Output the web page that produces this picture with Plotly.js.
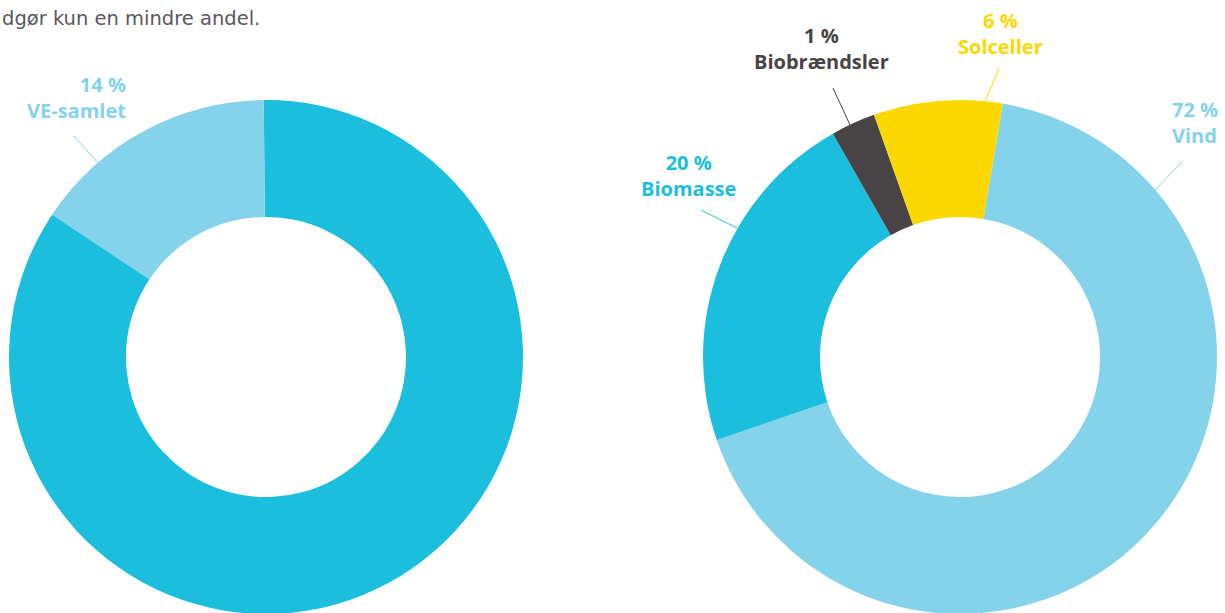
<!DOCTYPE html>
<html>
<head>
<meta charset="utf-8">
<script src="https://cdn.plot.ly/plotly-3.0.1.min.js"></script>
<style>
html,body{margin:0;padding:0;background:#fff;overflow:hidden;}
#chart{width:1225px;height:680px;}
</style>
</head>
<body>
<div id="chart"></div>
<script>
// ---- data ----
var leftLabels = ["Øvrige", "VE-samlet"];
var leftValues = [84.5, 15.5];
var leftPctText = ["", "14 %"];

var rightLabels = ["Vind", "Biomasse", "Biobrændsler", "Solceller"];
var rightValues = [67.1, 22.0, 2.8, 8.1];
var rightPctText = ["72 %", "20 %", "1 %", "6 %"];

var introText = "dgør kun en mindre andel.";

// ---- styling ----
var W = 1225, H = 680;
function px(x){ return x / W; }
function py(y){ return 1 - y / H; }
var FONT = "Open Sans, Lato, DejaVu Sans, sans-serif";

var cDark = "#1bbfdd", cLight = "#85d3ea", cGrey = "#484344", cYellow = "#fdd700";

var traces = [
  {
    type: "pie", labels: leftLabels, values: leftValues,
    hole: 0.545, sort: false, direction: "clockwise", rotation: -0.5,
    textinfo: "none", hoverinfo: "label+percent",
    marker: {colors: [cDark, cLight], line: {width: 0}},
    domain: {x: [px(9), px(523)], y: [py(614), py(100)]},
    showlegend: false
  },
  {
    type: "pie", labels: rightLabels, values: rightValues,
    hole: 0.545, sort: false, direction: "clockwise", rotation: 9.6,
    textinfo: "none", hoverinfo: "label+percent",
    marker: {colors: [cLight, cDark, cGrey, cYellow], line: {width: 0}},
    domain: {x: [px(703), px(1217)], y: [py(614), py(100)]},
    showlegend: false
  }
];

function lbl(pct, name, x, y, color, xanchor, align){
  return {
    xref: "paper", yref: "paper", x: px(x), y: py(y),
    xanchor: xanchor, yanchor: "middle", align: align,
    text: pct + "<br>" + name, showarrow: false,
    font: {family: FONT, size: 20, color: color, weight: "bold"}
  };
}

var annotations = [
  lbl(leftPctText[1], leftLabels[1], 128, 98, cLight, "right", "right"),
  lbl(rightPctText[2], rightLabels[2], 821, 49, cGrey, "center", "center"),
  lbl(rightPctText[3], rightLabels[3], 1000, 33, cYellow, "center", "center"),
  lbl(rightPctText[1], rightLabels[1], 688, 176, cDark, "center", "center"),
  lbl(rightPctText[0], rightLabels[0], 1170, 122, cLight, "left", "left"),
  {
    xref: "paper", yref: "paper", x: px(0), y: py(18),
    xanchor: "left", yanchor: "middle", text: introText, showarrow: false,
    font: {family: "DejaVu Sans, sans-serif", size: 19.5, color: "#58595b"}
  }
];

function seg(x0, y0, x1, y1, color){
  return {type: "line", xref: "paper", yref: "paper",
    x0: px(x0), y0: py(y0), x1: px(x1), y1: py(y1),
    line: {color: color, width: 1}};
}

var shapes = [
  seg(74, 136, 98, 163, cLight),
  seg(833, 88, 850, 125, cGrey),
  seg(999, 68, 985, 102, cYellow),
  seg(701, 210, 737, 228, cDark),
  seg(1182, 162, 1155, 190, cLight)
];

var layout = {
  width: W, height: H,
  margin: {l: 0, r: 0, t: 0, b: 0},
  paper_bgcolor: "#ffffff",
  annotations: annotations,
  shapes: shapes,
  showlegend: false
};

Plotly.newPlot("chart", traces, layout, {displayModeBar: false, staticPlot: true});
</script>
</body>
</html>
